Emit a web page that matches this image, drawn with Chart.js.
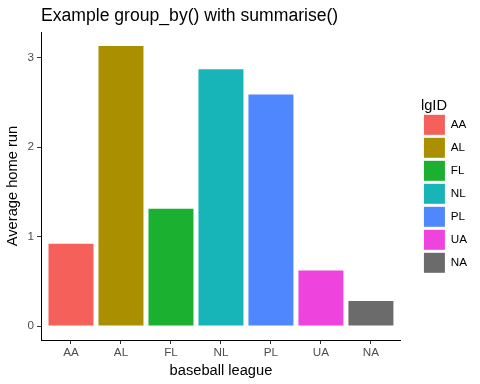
<!DOCTYPE html>
<html>
<head>
<meta charset="utf-8">
<script src="https://cdn.jsdelivr.net/npm/chart.js@4/dist/chart.umd.min.js"></script>
<style>
  html, body { margin: 0; padding: 0; background: #fff; }
  #wrap { width: 480px; height: 384px; }
</style>
</head>
<body>
<div id="wrap"><canvas id="grafico"></canvas></div>
<script>
const ligas = ["AA", "AL", "FL", "NL", "PL", "UA", "NA"];
const promedioHR = [0.92, 3.13, 1.31, 2.87, 2.59, 0.62, 0.28];
const colores = ["#F5605A", "#AA9000", "#1CB030", "#17B4B8", "#4F87FF", "#EE43DC", "#6B6B6B"];
const ticksY = [0, 1, 2, 3];

const fuente = "'Liberation Sans', Arial, Helvetica, sans-serif";

// titulo alineado con el panel (como ggplot) y leyenda un poco corrida
const ajustes = {
    id: 'ajustes',
    afterLayout(chart) {
        if (chart.titleBlock) chart.titleBlock.left = chart.chartArea.left;
        const lg = chart.legend;
        if (lg) {
            lg.left += 20; lg.right += 20;
            lg.top -= 5; lg.bottom -= 5;
        }
    }
};

const yMax = Math.max(...promedioHR);

new Chart(document.getElementById('grafico'), {
    type: 'bar',
    data: {
        datasets: [{
            label: 'Average home run',
            data: promedioHR.map((v, i) => ({ x: i + 1, y: v })),
            backgroundColor: colores,
            borderWidth: 0,
            barPercentage: 0.9,
            categoryPercentage: 1
        }]
    },
    options: {
        responsive: true,
        maintainAspectRatio: false,
        animation: false,
        layout: { padding: { left: 0, right: 23, top: 0, bottom: 0 } },
        plugins: {
            title: {
                display: true,
                text: 'Example group_by() with summarise()',
                align: 'start',
                color: '#000',
                font: { family: fuente, size: 17.6, weight: 'normal' },
                padding: { top: 6, bottom: 5 }
            },
            tooltip: { enabled: false },
            legend: {
                position: 'right',
                align: 'center',
                title: {
                    display: true,
                    text: 'lgID',
                    position: 'start',
                    color: '#000',
                    font: { family: fuente, size: 14.67 },
                    padding: { top: 0, bottom: -4 }
                },
                labels: {
                    boxWidth: 21,
                    boxHeight: 20,
                    padding: 3,
                    color: '#000',
                    font: { family: fuente, size: 11.7 },
                    generateLabels: () => ligas.map((l, i) => ({
                        text: l,
                        fillStyle: colores[i],
                        strokeStyle: colores[i],
                        lineWidth: 0,
                        hidden: false,
                        index: i
                    }))
                },
                onClick: null
            }
        },
        scales: {
            x: {
                type: 'linear',
                min: 0.4,
                max: 7.6,
                offset: false,
                afterBuildTicks: s => { s.ticks = ligas.map((_, i) => ({ value: i + 1 })); },
                afterFit: s => { s.height = 44; },
                ticks: {
                    callback: v => ligas[v - 1],
                    color: '#4D4D4D',
                    font: { family: fuente, size: 11.7 },
                    padding: 2,
                    maxRotation: 0
                },
                grid: { display: true, offset: false, drawOnChartArea: false, tickLength: 4, color: '#333' },
                border: { display: true, color: '#000', width: 1 },
                title: {
                    display: true,
                    text: 'baseball league',
                    color: '#000',
                    font: { family: fuente, size: 14.67 },
                    padding: { top: 0, bottom: 4 }
                }
            },
            y: {
                min: -0.05 * yMax,
                max: yMax * 1.05,
                afterBuildTicks: s => { s.ticks = ticksY.map(v => ({ value: v })); },
                afterFit: s => { s.width = 41; },
                ticks: {
                    color: '#4D4D4D',
                    font: { family: fuente, size: 11.7 },
                    padding: 3
                },
                grid: { display: true, drawOnChartArea: false, tickLength: 4, color: '#333' },
                border: { display: true, color: '#000', width: 1 },
                title: {
                    display: true,
                    text: 'Average home run',
                    color: '#000',
                    font: { family: fuente, size: 14.67 },
                    padding: { top: 4, bottom: 0 }
                }
            }
        }
    },
    plugins: [ajustes]
});
</script>
</body>
</html>
